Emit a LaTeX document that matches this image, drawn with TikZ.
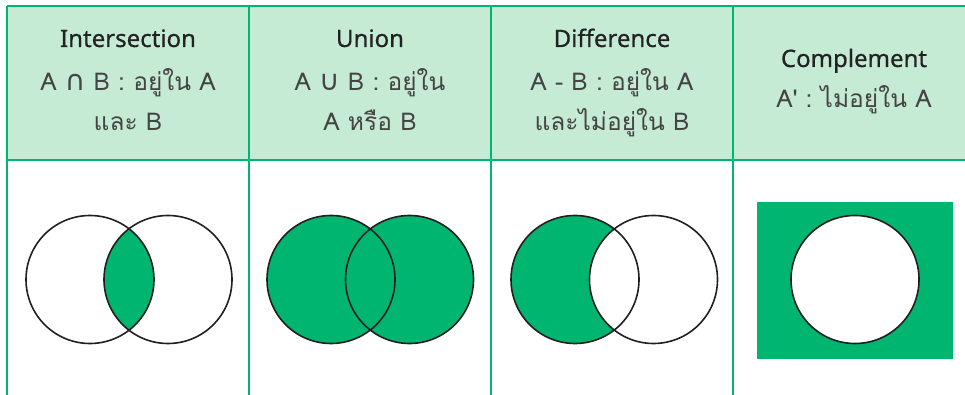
\documentclass[tikz,border=0pt]{standalone}
\usepackage{fontspec}
\setmainfont{Noto Sans}
\newfontfamily\titlefont[FakeBold=0.6]{Noto Sans}
\newfontfamily\thaifont[Script=Thai]{Loma}
\newfontfamily\symfont{DejaVu Sans}
\definecolor{hdr}{HTML}{C6EBD4}
\definecolor{grn}{HTML}{00B56F}
\definecolor{ink}{HTML}{231F20}
\definecolor{tdark}{HTML}{222222}
\definecolor{tgray}{HTML}{444444}
\newcommand{\bigsym}[1]{{\symfont\fontsize{28}{26}\selectfont #1}}
\begin{document}
\begin{tikzpicture}[x=1pt,y=-1pt,
  title/.style={anchor=base,inner sep=0pt,text=tdark,font=\titlefont\fontsize{24}{26}\selectfont},
  desc/.style={anchor=base,inner sep=0pt,text=tgray,font=\thaifont\fontsize{24.5}{26}\selectfont},
  grid/.style={draw=grn,line width=2.6pt},
  venn/.style={draw=ink,line width=1.6pt}]
\useasboundingbox (0,0) rectangle (965,395);
\clip (0,0) rectangle (965,395);
% header
\fill[hdr] (7,6) rectangle (975,160);
\draw[grid] (7,6) -- (975,6);
\draw[grid] (7,160) -- (975,160);
\foreach \x in {7,249,491,733,975} \draw[grid] (\x,6) -- (\x,400);
% texts
\node[title] (t1) at (128,47) {Intersection};
\node[desc] (d1a) at (128,91) {A \bigsym{∩} B : อยู่ใน A};
\node[desc] (d1b) at (128,131) {และ B};
\node[title] (t2) at (370,47) {Union};
\node[desc] (d2a) at (370,91) {A \bigsym{∪} B : อยู่ใน};
\node[desc] (d2b) at (370,131) {A หรือ B};
\node[title] (t3) at (612,47) {Difference};
\node[desc] (d3a) at (612,91) {A - B : อยู่ใน A};
\node[desc] (d3b) at (612,131) {และไม่อยู่ใน B};
\node[title] (t4) at (854,67) {Complement};
\node[desc] (d4a) at (854,108) {A' : ไม่อยู่ใน A};
% centres
\coordinate (ia) at (90,279.5);  \coordinate (ib) at (168,279.5);
\coordinate (ua) at (331,279.5); \coordinate (ub) at (409.5,279.5);
\coordinate (da) at (575,279.5); \coordinate (db) at (653.5,279.5);
\coordinate (ca) at (855,279.5);
% intersection
\begin{scope}
  \clip (ia) circle[radius=64pt];
  \fill[grn] (ib) circle[radius=64pt];
\end{scope}
\draw[venn] (ia) circle[radius=64pt] (ib) circle[radius=64pt];
% union
\fill[grn] (ua) circle[radius=64pt] (ub) circle[radius=64pt];
\draw[venn] (ua) circle[radius=64pt] (ub) circle[radius=64pt];
% difference
\fill[grn] (da) circle[radius=64pt];
\begin{scope}
  \clip (da) circle[radius=64pt];
  \fill[white] (db) circle[radius=64pt];
\end{scope}
\draw[venn] (da) circle[radius=64pt] (db) circle[radius=64pt];
% complement
\fill[grn] (757,202) rectangle (953,359);
\fill[white] (ca) circle[radius=64pt];
\draw[venn] (ca) circle[radius=64pt];
\end{tikzpicture}
\end{document}
